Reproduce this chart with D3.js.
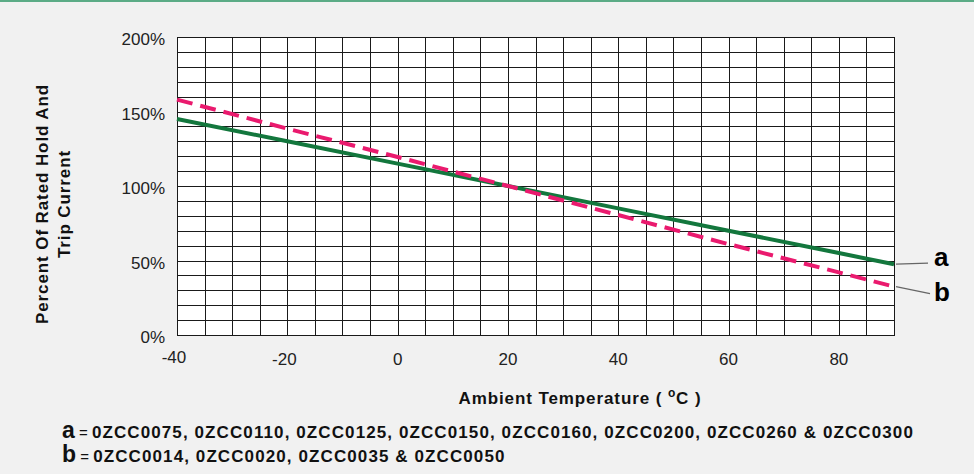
<!DOCTYPE html>
<html>
<head>
<meta charset="utf-8">
<script src="https://cdn.jsdelivr.net/npm/d3@7"></script>
<style>
  html, body { margin: 0; padding: 0; background: #f1f1f1; }
  svg { display: block; font-family: "Liberation Sans", Arial, sans-serif; }
</style>
</head>
<body>
<svg id="chart" width="974" height="474"></svg>
<script>
// derating curves, percent of rated hold/trip current vs ambient temperature
var temps = [-40, -20, 0, 20, 40, 60, 80, 90];
var seriesA = [145, 130, 115, 100, 85, 70, 55, 47.5];
var seriesB = [158, 138.5, 119.5, 100, 80.5, 61, 42, 32.5];

var xTicks = [-40, -20, 0, 20, 40, 60, 80];
var yTicks = [0, 50, 100, 150, 200];

var legendA = '0ZCC0075, 0ZCC0110, 0ZCC0125, 0ZCC0150, 0ZCC0160, 0ZCC0200, 0ZCC0260 & 0ZCC0300';
var legendB = '0ZCC0014, 0ZCC0020, 0ZCC0035 & 0ZCC0050';

var svg = d3.select('#chart');

var plotL = 177, plotR = 894, plotT = 37, plotB = 335;

var x = d3.scaleLinear().domain([-40, 90]).range([plotL, plotR]);
var y = d3.scaleLinear().domain([0, 200]).range([plotB, plotT]);

// green rule across the top
svg.append('rect')
    .attr('x', 0).attr('y', 0)
    .attr('width', 974).attr('height', 2)
    .attr('fill', '#5bab86');

svg.append('rect')
    .attr('x', plotL).attr('y', plotT)
    .attr('width', plotR - plotL).attr('height', plotB - plotT)
    .attr('fill', '#fff');

var grid = svg.append('g')
    .attr('stroke', '#1a1a1a')
    .attr('stroke-width', 1);

d3.range(-40, 91, 5).forEach(function(t) {
    var px = Math.round(x(t)) + 0.5;
    grid.append('line')
        .attr('x1', px).attr('x2', px)
        .attr('y1', plotT).attr('y2', plotB);
});

d3.range(0, 201, 10).forEach(function(v) {
    var py = Math.round(y(v)) + 0.5;
    grid.append('line')
        .attr('x1', plotL).attr('x2', plotR + 1)
        .attr('y1', py).attr('y2', py);
});

// tick labels
svg.append('g').selectAll('text')
    .data(yTicks)
    .join('text')
    .attr('x', 165)
    .attr('y', function(d) { return y(d) + 8; })
    .attr('text-anchor', 'end')
    .attr('font-size', 17)
    .attr('fill', '#222')
    .text(function(d) { return d + '%'; });

svg.append('g').selectAll('text')
    .data(xTicks)
    .join('text')
    .attr('x', function(d) { return x(d) - (d < 0 ? 3 : 0); })
    .attr('y', function(d) { return d === -40 ? 363 : 365; })
    .attr('text-anchor', 'middle')
    .attr('font-size', 17)
    .attr('fill', '#222')
    .text(function(d) { return d; });

// curves
var line = d3.line()
    .x(function(d) { return x(d[0]); })
    .y(function(d) { return y(d[1]); });

svg.append('path')
    .datum(d3.zip(temps, seriesA))
    .attr('d', line)
    .attr('fill', 'none')
    .attr('stroke', '#13773d')
    .attr('stroke-width', 4);

svg.append('path')
    .datum(d3.zip(temps, seriesB))
    .attr('d', line)
    .attr('fill', 'none')
    .attr('stroke', '#ea1a6e')
    .attr('stroke-width', 4)
    .attr('stroke-dasharray', '16,8');

// end labels with leaders
var endA = y(seriesA[seriesA.length - 1]);
var endB = y(seriesB[seriesB.length - 1]);

svg.append('line')
    .attr('x1', plotR + 2).attr('y1', endA)
    .attr('x2', 928).attr('y2', endA - 1)
    .attr('stroke', '#666').attr('stroke-width', 1.3);

svg.append('line')
    .attr('x1', plotR + 2).attr('y1', endB)
    .attr('x2', 930).attr('y2', endB + 7)
    .attr('stroke', '#666').attr('stroke-width', 1.3);

svg.append('text')
    .attr('x', 934).attr('y', endA + 2)
    .attr('font-size', 26).attr('font-weight', 'bold')
    .text('a');

svg.append('text')
    .attr('x', 934).attr('y', endB + 14)
    .attr('font-size', 26).attr('font-weight', 'bold')
    .text('b');

// axis titles
var xt = svg.append('text')
    .attr('x', 580).attr('y', 404)
    .attr('text-anchor', 'middle')
    .attr('font-size', 17).attr('font-weight', 'bold')
    .attr('letter-spacing', 0.9)
    .attr('fill', '#111');
xt.append('tspan').text('Ambient Temperature ( ');
xt.append('tspan').attr('dy', -7).attr('font-size', 12).text('o');
xt.append('tspan').attr('dy', 7).text('C )');

var yt = svg.append('text')
    .attr('transform', 'translate(48,204) rotate(-90)')
    .attr('text-anchor', 'middle')
    .attr('font-size', 17).attr('font-weight', 'bold')
    .attr('letter-spacing', 0.9)
    .attr('fill', '#111');
yt.append('tspan').attr('x', 0).attr('dy', 0).text('Percent Of Rated Hold And');
yt.append('tspan').attr('x', 0).attr('dy', 22).text('Trip Current');

// legend rows
[['a', legendA, 438], ['b', legendB, 462]].forEach(function(r) {
    var t = svg.append('text')
        .attr('x', 62).attr('y', r[2])
        .attr('fill', '#111')
        .attr('font-weight', 'bold');
    t.append('tspan').attr('font-size', 23).text(r[0]);
    t.append('tspan').attr('font-size', 15).attr('font-weight', 'normal').text(' = ');
    t.append('tspan').attr('font-size', 17).attr('letter-spacing', 1.1).text(r[1]);
});
</script>
</body>
</html>
